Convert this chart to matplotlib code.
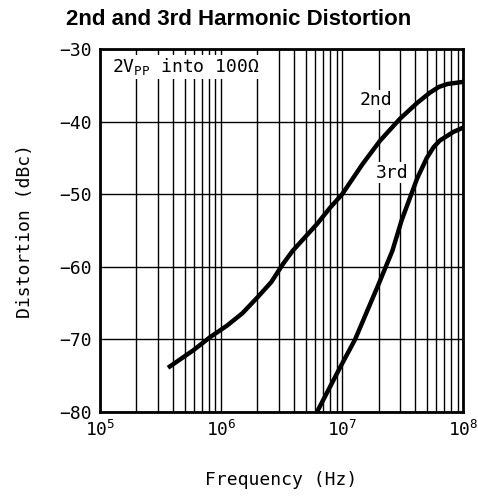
import matplotlib
matplotlib.use("Agg")
import matplotlib.pyplot as plt
from matplotlib.ticker import LogLocator, NullFormatter
import numpy as np

plt.rcParams["font.family"] = ["DejaVu Sans Mono", "DejaVu Sans"]
plt.rcParams["mathtext.fontset"] = "custom"
plt.rcParams["mathtext.rm"] = "DejaVu Sans Mono"
plt.rcParams["mathtext.it"] = "DejaVu Sans Mono"

# 2nd harmonic (Hz, dBc)
freq_2nd = [3.65e5, 5.9e5, 8.1e5, 1.12e6, 1.5e6, 2.0e6, 2.6e6, 3.25e6, 3.9e6,
            6.2e6, 8.0e6, 1.0e7, 1.48e7, 2.06e7, 3.0e7, 4.17e7, 5.3e7, 6.3e7,
            7.4e7, 1.0e8]
dist_2nd = [-73.9, -71.5, -69.7, -68.1, -66.4, -64.2, -62.1, -59.6, -57.8,
            -54.1, -51.8, -50.0, -45.8, -42.6, -39.6, -37.4, -36.0, -35.2,
            -34.8, -34.5]

# 3rd harmonic
freq_3rd = [6.2e6, 9.6e6, 1.28e7, 2.0e7, 2.6e7, 3.1e7, 3.65e7, 4.17e7, 5.0e7,
            5.7e7, 6.4e7, 8.3e7, 1.0e8]
dist_3rd = [-80.0, -73.9, -70.0, -62.4, -57.8, -53.6, -50.4, -47.8, -45.0,
            -43.5, -42.6, -41.4, -40.8]

yticks = [-30, -40, -50, -60, -70, -80]

fig = plt.figure(figsize=(4.78, 4.97), dpi=100)
ax = fig.add_axes([0.209, 0.171, 0.760, 0.730])

ax.set_xscale("log")
ax.set_xlim(1e5, 1e8)
ax.set_ylim(-80, -30)
ax.set_yticks(yticks)
ax.set_yticklabels([str(v).replace("-", "\u2212") for v in yticks])
ax.xaxis.set_minor_locator(LogLocator(base=10, subs=np.arange(2, 10)))
ax.xaxis.set_minor_formatter(NullFormatter())

ax.grid(True, which="both", axis="x", color="black", linewidth=1.0)
ax.grid(True, which="major", axis="y", color="black", linewidth=1.0)
ax.tick_params(which="both", length=0, labelsize=13, pad=6)
for s in ax.spines.values():
    s.set_linewidth(2)

ax.plot(freq_2nd, dist_2nd, color="black", linewidth=3.2,
        solid_capstyle="butt", solid_joinstyle="round")
ax.plot(freq_3rd, dist_3rd, color="black", linewidth=3.2,
        solid_capstyle="butt", solid_joinstyle="round")

ax.text(1.9e7, -37.0, "2nd", fontsize=13, ha="center", va="center",
        bbox=dict(facecolor="white", edgecolor="none", pad=1))
ax.text(2.6e7, -47.0, "3rd", fontsize=13, ha="center", va="center",
        bbox=dict(facecolor="white", edgecolor="none", pad=1))
ax.text(1.26e5, -32.4, r"2V$_{\mathregular{PP}}$ into 100$\mathregular{\Omega}$",
        fontsize=13, ha="left", va="center",
        bbox=dict(facecolor="white", edgecolor="none", pad=1))

ax.set_xlabel("Frequency (Hz)", fontsize=13, labelpad=22)
ax.set_ylabel("Distortion (dBc)", fontsize=13, labelpad=18)
fig.text(0.5, 0.96, "2nd and 3rd Harmonic Distortion", ha="center", va="center",
         fontsize=16, fontweight="bold", family="Liberation Sans")

fig.savefig("out.png", dpi=100)
